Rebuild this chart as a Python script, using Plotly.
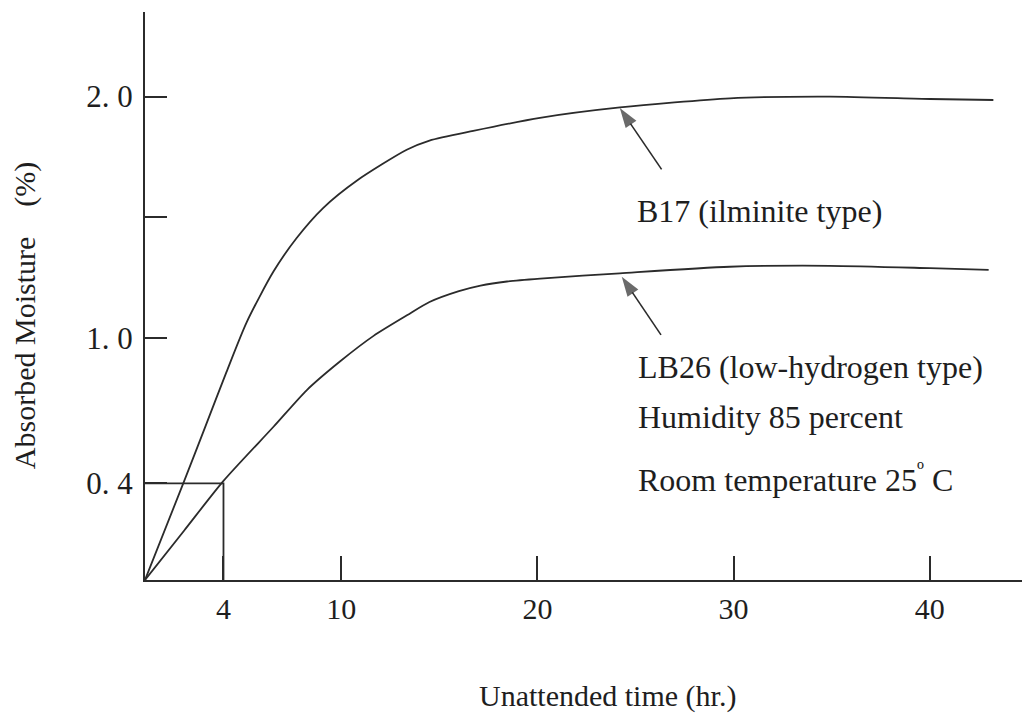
import plotly.graph_objects as go

# ---- data ----
time_b17 = [0, 2.0, 3.1, 4.15, 5.18, 6.54, 7.73, 9.09, 10.79, 13.34, 14.5, 16.73, 20.13, 24.21, 29.82, 34.91, 40.01, 43.24]
moist_b17 = [0, 0.41, 0.64, 0.86, 1.066, 1.275, 1.415, 1.54, 1.652, 1.78, 1.818, 1.858, 1.912, 1.955, 1.993, 2.0, 1.99, 1.986]

time_lb26 = [0, 2.0, 4.0, 6.55, 8.25, 9.95, 11.65, 13.35, 14.5, 16.0, 17.1, 18.45, 20.15, 24.2, 29.8, 34.9, 40.0, 43.0]
moist_lb26 = [0, 0.205, 0.41, 0.634, 0.786, 0.905, 1.01, 1.095, 1.15, 1.195, 1.218, 1.235, 1.247, 1.269, 1.296, 1.30, 1.29, 1.283]

guide_x = [0, 4, 4]
guide_y = [0.4, 0.4, 0]

x_tickvals = [4, 10, 20, 30, 40]
x_ticktext = ["4", "10", "20", "30", "40"]
y_tickvals = [0.4, 1.0, 2.0]
y_ticktext = ["0. 4", "1. 0", "2. 0"]
y_unlabeled_ticks = [1.5]

# arrows: head / tail in data units
arrow_head_x = [24.2, 24.3]
arrow_head_y = [1.953, 1.255]
arrow_tail_x = [26.33, 26.3]
arrow_tail_y = [1.699, 1.014]

INK = "#2b2b2b"
SERIF = "Liberation Serif, Times New Roman, serif"

fig = go.Figure()
fig.add_trace(go.Scatter(x=time_b17, y=moist_b17, mode="lines",
                         line=dict(color=INK, width=1.8, shape="spline", smoothing=0.7),
                         hoverinfo="skip", showlegend=False))
fig.add_trace(go.Scatter(x=time_lb26, y=moist_lb26, mode="lines",
                         line=dict(color=INK, width=1.8, shape="spline", smoothing=0.7),
                         hoverinfo="skip", showlegend=False))
fig.add_trace(go.Scatter(x=guide_x, y=guide_y, mode="lines",
                         line=dict(color=INK, width=1.8),
                         hoverinfo="skip", showlegend=False))

for hx, hy, tx, ty in zip(arrow_head_x, arrow_head_y, arrow_tail_x, arrow_tail_y):
    fig.add_trace(go.Scatter(x=[tx, hx], y=[ty, hy], mode="lines+markers",
                             line=dict(color=INK, width=1.6),
                             marker=dict(symbol=["circle", "arrow"], size=[0, 21],
                                         angleref="previous", color=INK,
                                         line=dict(width=0)),
                             hoverinfo="skip", showlegend=False))

def label(text, x, y, size=32, **kw):
    d = dict(text=text, x=x, y=y, xref="paper", yref="paper", showarrow=False,
             xanchor="left", yanchor="middle", font=dict(family=SERIF, size=size, color="#1e1e1e"))
    d.update(kw)
    return d

annotations = [
    label("B17 (ilminite type)", 0.5587, 0.6496),
    label("LB26 (low-hydrogen type)", 0.5599, 0.375),
    label("Humidity 85 percent", 0.5599, 0.287),
    label("Room temperature 25<sup>\u00ba</sup> C", 0.5599, 0.18),
    label("Unattended time (hr.)", 0.527, -0.205, size=30, xanchor="center"),
    label("Absorbed Moisture\u00a0\u00a0\u00a0\u00a0(%)", -0.137, 0.466, size=30,
          xanchor="center", textangle=-90),
]

fig.update_layout(
    width=1029, height=715, autosize=False,
    margin=dict(l=145, r=7, t=12, b=135),
    paper_bgcolor="white", plot_bgcolor="white",
    annotations=annotations,
    xaxis=dict(range=[0, 44.7], showline=True, linecolor=INK, linewidth=2,
               ticks="inside", ticklen=24, tickwidth=1.6, tickcolor=INK,
               tickvals=x_tickvals, ticktext=x_ticktext, showgrid=False, zeroline=False,
               tickfont=dict(family=SERIF, size=30, color="#1e1e1e"), ticklabelstandoff=1),
    yaxis=dict(range=[0, 2.35], showline=True, linecolor=INK, linewidth=2,
               ticks="inside", ticklen=22, tickwidth=1.6, tickcolor=INK,
               tickvals=y_tickvals, ticktext=y_ticktext, showgrid=False, zeroline=False,
               minor=dict(tickvals=y_unlabeled_ticks, ticks="inside", ticklen=22,
                          tickwidth=1.6, tickcolor=INK, showgrid=False),
               tickfont=dict(family=SERIF, size=31, color="#1e1e1e"), ticklabelstandoff=4),
)

fig.write_html("out.html")
